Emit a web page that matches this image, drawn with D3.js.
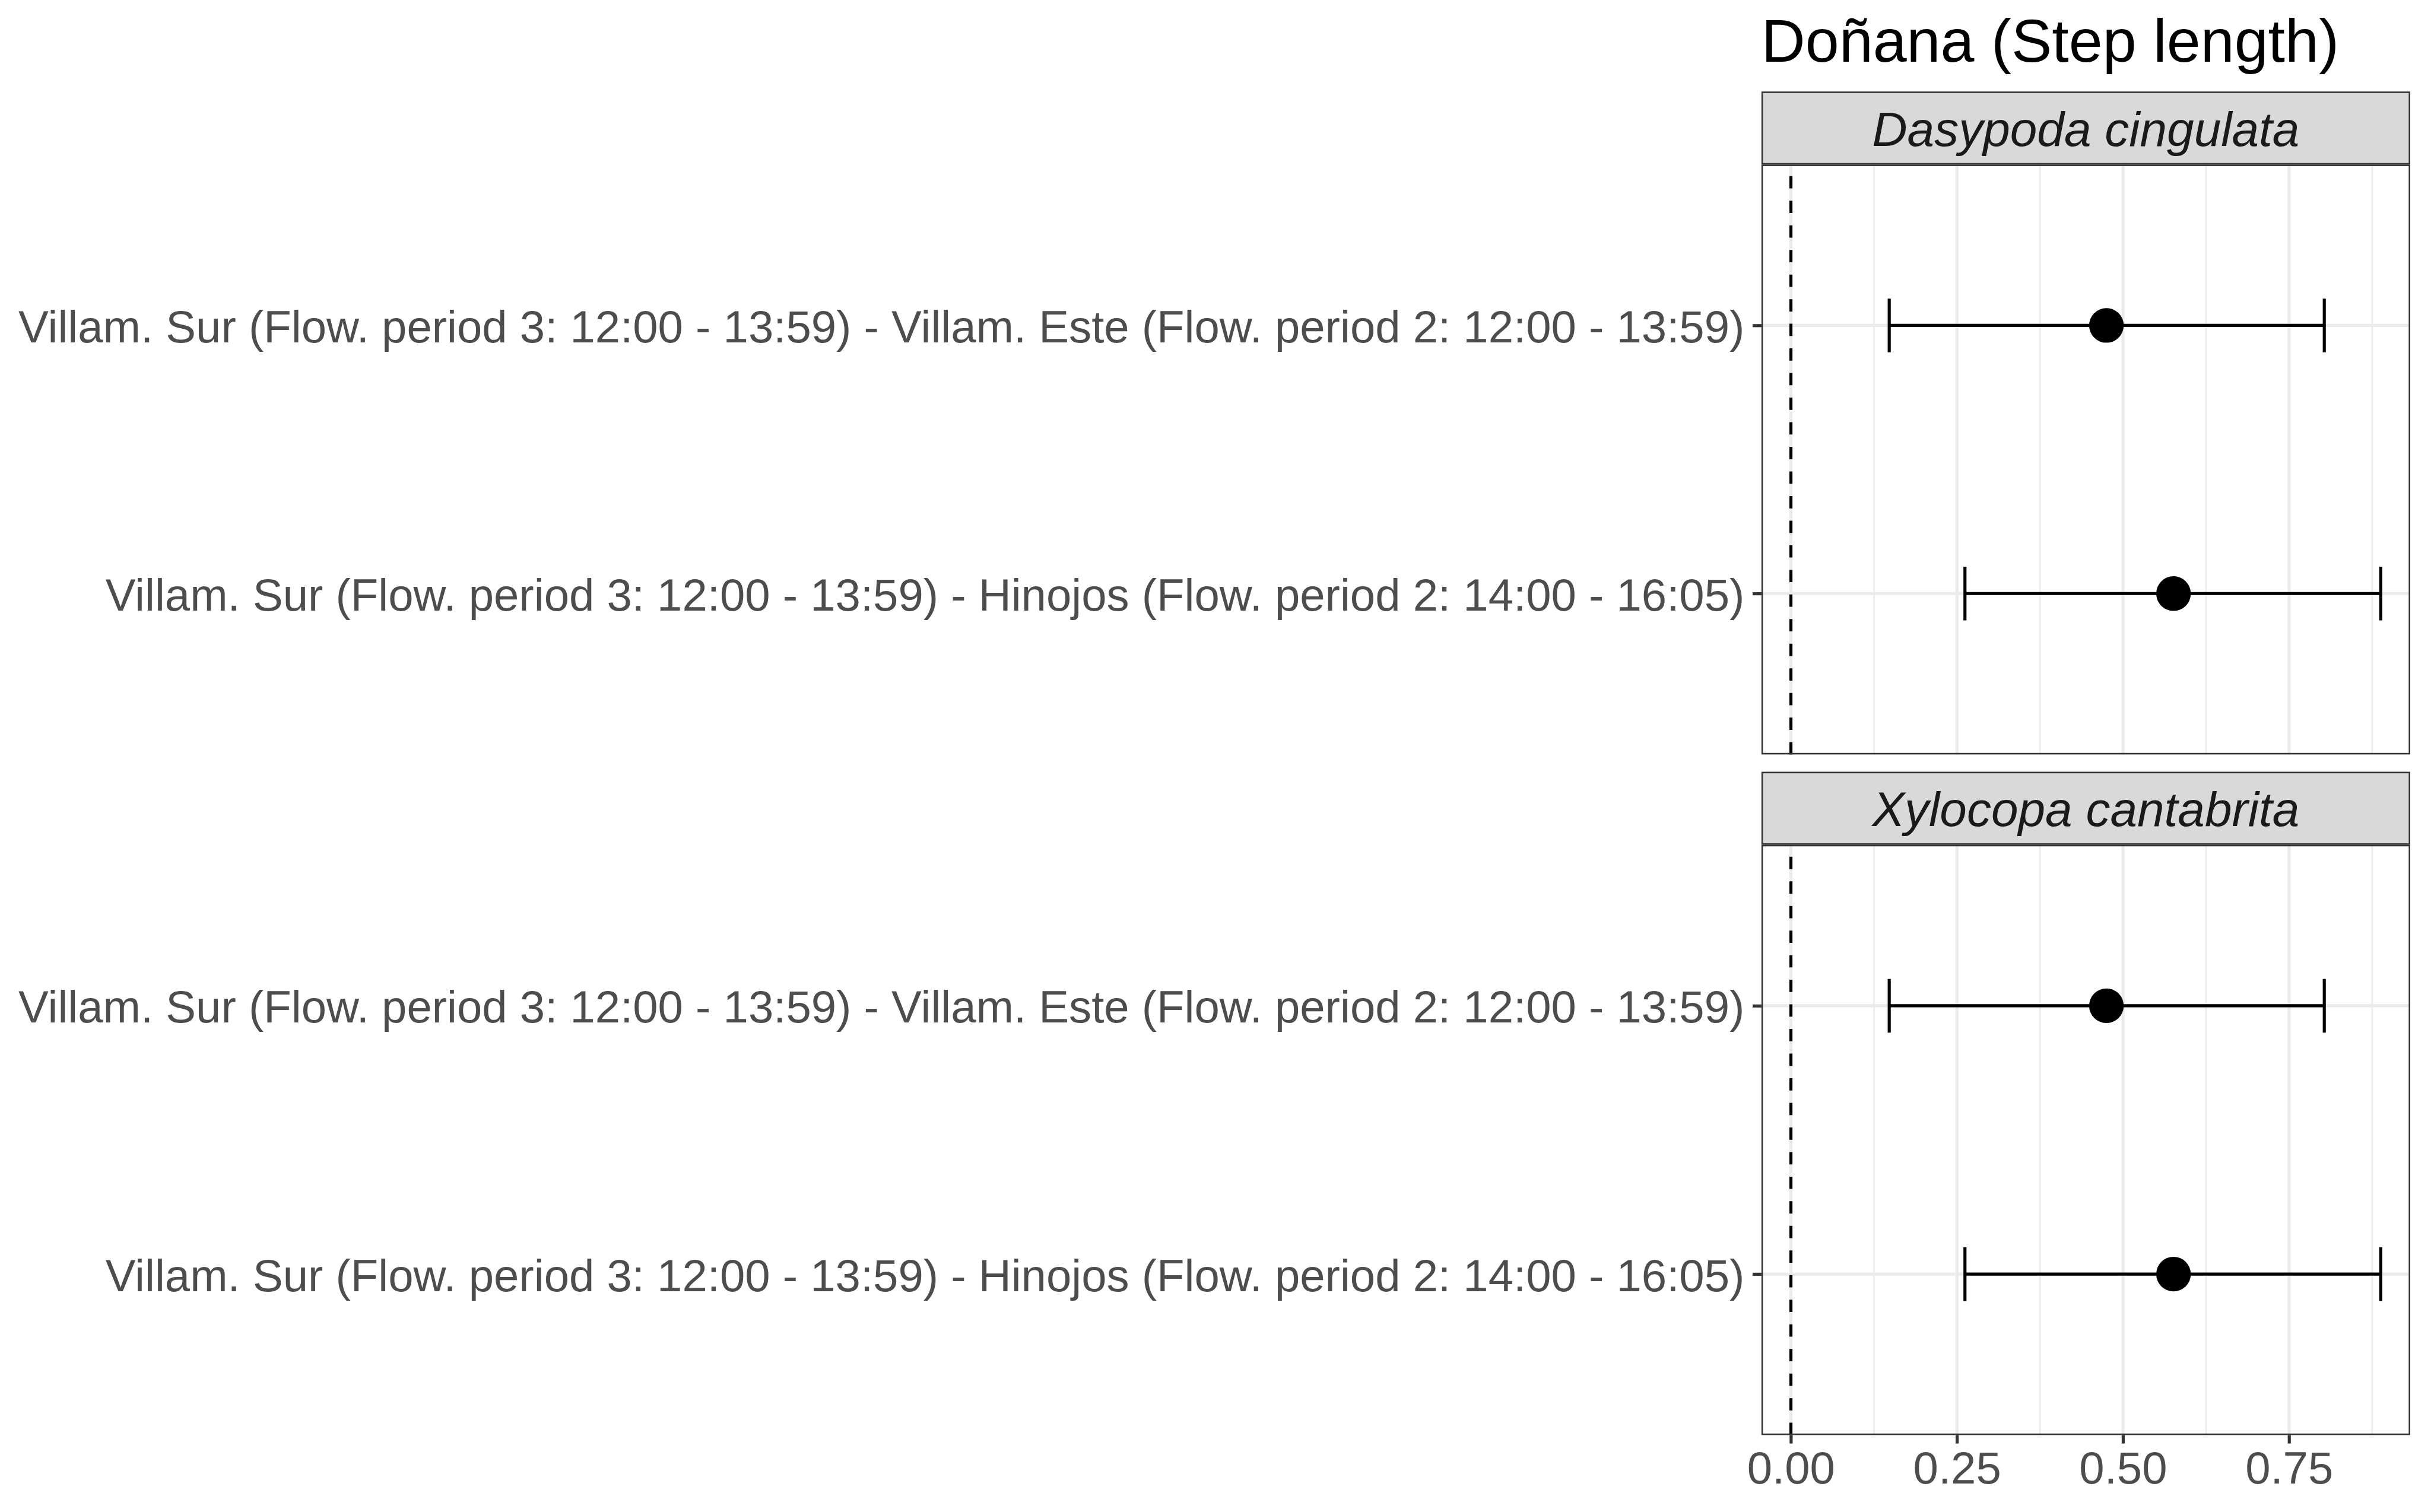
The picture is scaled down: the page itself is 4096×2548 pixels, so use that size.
<!DOCTYPE html>
<html>
<head>
<meta charset="utf-8">
<script src="https://cdn.jsdelivr.net/npm/d3@7"></script>
<style>
  html, body { margin: 0; padding: 0; background: #ffffff; }
  svg { display: block; }
  text { font-family: "Liberation Sans", Arial, Helvetica, sans-serif; }
</style>
</head>
<body>
<svg id="chart" width="4096" height="2548"></svg>
<script>
// ---------------- data ----------------
const plotTitle = "Doñana (Step length)";
const species = ["Dasypoda cingulata", "Xylocopa cantabrita"];
const comparisons = [
  "Villam. Sur (Flow. period 3: 12:00 - 13:59) - Villam. Este (Flow. period 2: 12:00 - 13:59)",
  "Villam. Sur (Flow. period 3: 12:00 - 13:59) - Hinojos (Flow. period 2: 14:00 - 16:05)"
];
const estDasypoda = [0.475, 0.576];
const lowDasypoda = [0.148, 0.262];
const highDasypoda = [0.803, 0.888];
const estXylocopa = [0.475, 0.576];
const lowXylocopa = [0.148, 0.262];
const highXylocopa = [0.803, 0.888];
const xMajorTicks = [0, 0.25, 0.5, 0.75];
const xTickLabels = ["0.00", "0.25", "0.50", "0.75"];
const xMinorTicks = [0.125, 0.375, 0.625, 0.875];
const refLine = 0;

const panelsData = [
  { name: species[0], est: estDasypoda, lo: lowDasypoda, hi: highDasypoda },
  { name: species[1], est: estXylocopa, lo: lowXylocopa, hi: highXylocopa }
];

// ---------------- layout (reference pixel units, scaled by 0.648) ----------------
const S = 0.648;
const svg = d3.select("#chart");
svg.append("rect").attr("width", 4096).attr("height", 2548).attr("fill", "#ffffff");
const root = svg.append("g").attr("transform", `scale(${S})`);

const px0 = 4580, px1 = 6267;
const panelY = [[428, 1962], [2197, 3732]];
const stripY = [[238, 428], [2007, 2197]];
const LW = 8; // base line width

const x = d3.scaleLinear().domain([-0.0444, 0.9324]).range([px0, px1]);

// title
root.append("text")
  .attr("x", px0).attr("y", 160)
  .attr("font-size", 158)
  .attr("fill", "#000000")
  .text(plotTitle);

panelsData.forEach((pd, i) => {
  const [y0, y1] = panelY[i];
  const [sy0, sy1] = stripY[i];
  const y = d3.scalePoint().domain(comparisons).range([y0, y1]).padding(0.6);
  const step = y.step();
  const g = root.append("g");

  // panel background
  g.append("rect").attr("x", px0).attr("y", y0).attr("width", px1 - px0).attr("height", y1 - y0)
    .attr("fill", "#ffffff");

  // minor grid
  g.selectAll(".minor").data(xMinorTicks).join("line")
    .attr("x1", d => x(d)).attr("x2", d => x(d)).attr("y1", y0).attr("y2", y1)
    .attr("stroke", "#EBEBEB").attr("stroke-width", LW / 2);
  // major grid vertical
  g.selectAll(".majorx").data(xMajorTicks).join("line")
    .attr("x1", d => x(d)).attr("x2", d => x(d)).attr("y1", y0).attr("y2", y1)
    .attr("stroke", "#EBEBEB").attr("stroke-width", LW);
  // major grid horizontal
  g.selectAll(".majory").data(comparisons).join("line")
    .attr("x1", px0).attr("x2", px1).attr("y1", d => y(d)).attr("y2", d => y(d))
    .attr("stroke", "#EBEBEB").attr("stroke-width", LW);

  // dashed reference line (drawn from bottom up)
  g.append("line")
    .attr("x1", x(refLine)).attr("x2", x(refLine)).attr("y1", y1).attr("y2", y0)
    .attr("stroke", "#000000").attr("stroke-width", LW)
    .attr("stroke-dasharray", "32 32");

  // error bars
  const rows = comparisons.map((c, j) => ({ c, est: pd.est[j], lo: pd.lo[j], hi: pd.hi[j] }));
  const eb = g.selectAll(".eb").data(rows).join("g");
  eb.append("line")
    .attr("x1", d => x(d.lo)).attr("x2", d => x(d.hi))
    .attr("y1", d => y(d.c)).attr("y2", d => y(d.c))
    .attr("stroke", "#000000").attr("stroke-width", LW);
  eb.append("line")
    .attr("x1", d => x(d.lo)).attr("x2", d => x(d.lo))
    .attr("y1", d => y(d.c) - step * 0.1).attr("y2", d => y(d.c) + step * 0.1)
    .attr("stroke", "#000000").attr("stroke-width", LW);
  eb.append("line")
    .attr("x1", d => x(d.hi)).attr("x2", d => x(d.hi))
    .attr("y1", d => y(d.c) - step * 0.1).attr("y2", d => y(d.c) + step * 0.1)
    .attr("stroke", "#000000").attr("stroke-width", LW);
  // points
  g.selectAll(".pt").data(rows).join("circle")
    .attr("cx", d => x(d.est)).attr("cy", d => y(d.c)).attr("r", 45)
    .attr("fill", "#000000");

  // panel border (visible part inside panel)
  g.append("rect")
    .attr("x", px0 + LW / 4).attr("y", y0 + LW / 4)
    .attr("width", px1 - px0 - LW / 2).attr("height", y1 - y0 - LW / 2)
    .attr("fill", "none").attr("stroke", "#333333").attr("stroke-width", LW / 2);

  // strip
  g.append("rect")
    .attr("x", px0 + LW / 4).attr("y", sy0 + LW / 4)
    .attr("width", px1 - px0 - LW / 2).attr("height", sy1 - sy0 - LW / 2)
    .attr("fill", "#D9D9D9").attr("stroke", "#333333").attr("stroke-width", LW / 2);
  g.append("text")
    .attr("x", (px0 + px1) / 2).attr("y", (sy0 + sy1) / 2 + 46)
    .attr("text-anchor", "middle")
    .attr("font-size", 126.5).attr("font-style", "italic")
    .attr("fill", "#1A1A1A")
    .text(pd.name);

  // y axis
  const yAxis = g.append("g").attr("transform", `translate(${px0},0)`)
    .call(d3.axisLeft(y).tickSize(23).tickPadding(21));
  yAxis.select(".domain").remove();
  yAxis.selectAll(".tick line").attr("stroke", "#333333").attr("stroke-width", LW);
  yAxis.selectAll(".tick text")
    .attr("font-size", 117.5).attr("fill", "#4D4D4D")
    .attr("font-family", "'Liberation Sans', Arial, sans-serif")
    .attr("dy", "0.37em");

  // x axis only on bottom panel
  if (i === panelsData.length - 1) {
    const xAxis = g.append("g").attr("transform", `translate(0,${y1})`)
      .call(d3.axisBottom(x).tickValues(xMajorTicks)
        .tickFormat((d, k) => xTickLabels[k]).tickSize(22).tickPadding(21));
    xAxis.select(".domain").remove();
    xAxis.selectAll(".tick line").attr("stroke", "#333333").attr("stroke-width", LW);
    xAxis.selectAll(".tick text")
      .attr("font-size", 117.5).attr("fill", "#4D4D4D")
      .attr("font-family", "'Liberation Sans', Arial, sans-serif");
  }
});
</script>
</body>
</html>
